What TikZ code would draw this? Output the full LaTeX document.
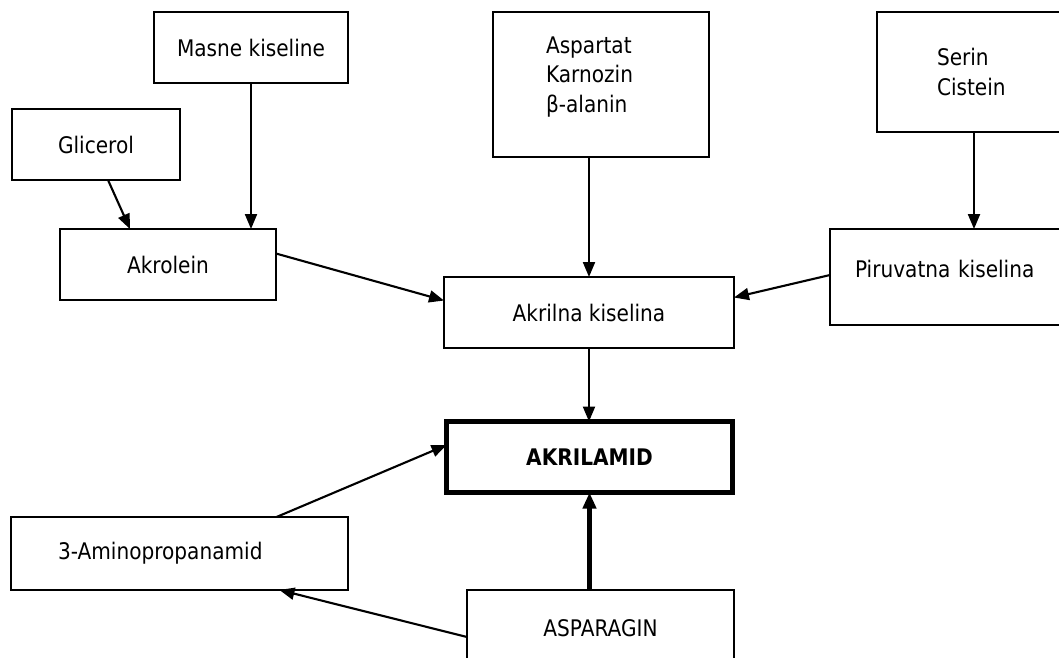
\documentclass[tikz,border=0pt]{standalone}
\usepackage{fontspec}
\setmainfont{DejaVu Sans}[FakeStretch=0.88]
\usetikzlibrary{arrows.meta}

\begin{document}
\begin{tikzpicture}[x=0.02cm,y=-0.02cm,
    box/.style={draw,line width=1pt,outer sep=0pt,inner sep=2pt,
      font=\fontsize{13}{17}\selectfont},
    mainbox/.style={box,line width=2.8pt,font=\fontsize{13}{17}\selectfont\bfseries},
    link/.style={line width=1.2pt,-{Triangle[length=0.3cm,width=0.24cm]}},
    mainlink/.style={line width=2.4pt,-{Triangle[length=0.32cm,width=0.26cm]}}]
            \useasboundingbox (0,0) rectangle (1059,657);
            \clip (0,0) rectangle (1059,657);

            \node[box,minimum width=3.36cm,minimum height=1.42cm] (glicerol) at (96,144.5) {Glicerol};
            \node[box,minimum width=3.88cm,minimum height=1.42cm] (masne) at (251,47.5) {Masne kiseline};
            \node[box,minimum width=4.32cm,minimum height=1.42cm] (akrolein) at (168,264.5) {Akrolein};
            \node[box,minimum height=2.9cm,inner xsep=1.06cm,text width=2.2cm,align=left] (aspartat) at (601,84.5) {Aspartat\\Karnozin\\β-alanin\\[-0.2cm]\mbox{}};
            \node[box,minimum height=2.4cm,inner xsep=1.2cm,text width=1.48cm,align=left] (serin) at (974,72) {Serin\\Cistein};
            \node[box,minimum height=1.92cm,inner xsep=0.5cm,text width=3.8cm,align=left] (piruvatna) at (950,277) {Piruvatna kiselina\\[-0.25cm]\mbox{}};
            \node[box,minimum width=5.8cm,minimum height=1.42cm] (akrilna) at (589,312.5) {Akrilna kiselina};
            \node[mainbox,minimum width=5.72cm,minimum height=1.42cm] (akrilamid) at (589.5,457) {AKRILAMID};
            \node[box,minimum height=1.46cm,inner xsep=0.94cm,text width=4.86cm,align=left] (amino) at (179.5,553.5) {3-Aminopropanamid};
            \node[box,minimum width=5.34cm,minimum height=1.52cm] (asparagin) at (600.5,628) {ASPARAGIN};

            \draw[link] ([xshift=0.24cm]glicerol.south) -- ([xshift=-0.76cm]akrolein.north);
            \draw[link] (masne.south) -- (masne.south |- akrolein.north);
            \draw[link] ([yshift=0.22cm]akrolein.east) -- ([yshift=0.24cm]akrilna.west);
            \draw[link] (akrilna.north |- aspartat.south) -- (akrilna.north);
            \draw[link] (serin.south) -- (serin.south |- piruvatna.north);
            \draw[link] ([yshift=0.04cm]piruvatna.west) -- ([yshift=0.3cm]akrilna.east);
            \draw[link] (akrilna.south) -- (akrilna.south |- akrilamid.north);
            \draw[link] ([xshift=1.94cm]amino.north) -- ([yshift=0.24cm]akrilamid.west);
            \draw[mainlink] (akrilamid.south |- asparagin.north) -- (akrilamid.south);
            \draw[link] ([yshift=-0.18cm]asparagin.west) -- ([xshift=2cm]amino.south);
        \end{tikzpicture}
\end{document}
